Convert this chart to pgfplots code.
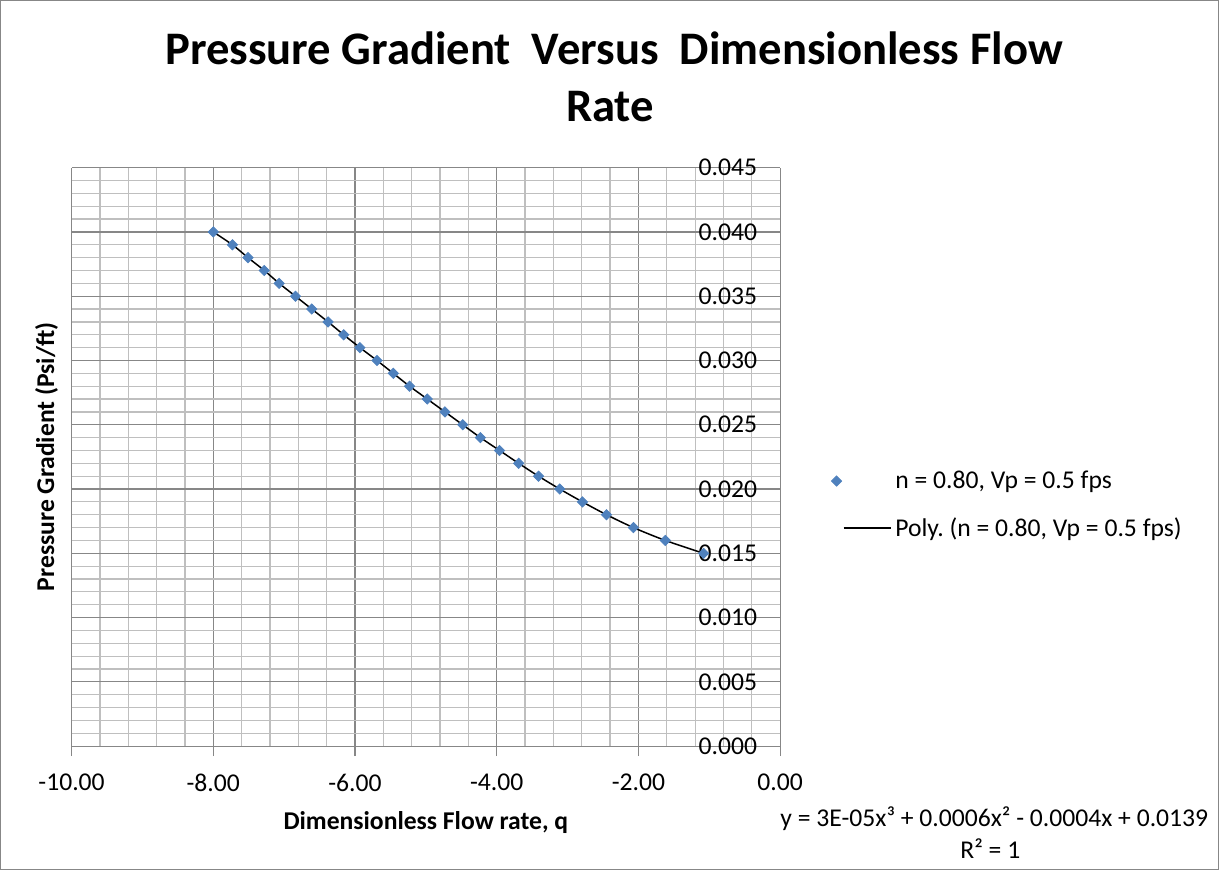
\documentclass[border=0pt]{standalone}
\usepackage{fontspec}
\setmainfont{Carlito}
\usepackage{pgfplots}
\usepackage{pgfplotstable}
\pgfplotsset{compat=1.18}
\definecolor{mblue}{HTML}{4F81BD}
\definecolor{gmaj}{HTML}{878787}
\definecolor{gmin}{HTML}{BFBFBF}
\pgfplotstableread{
x y
-8.00 0.040
-7.73 0.039
-7.51 0.038
-7.28 0.037
-7.07 0.036
-6.84 0.035
-6.61 0.034
-6.38 0.033
-6.16 0.032
-5.93 0.031
-5.69 0.030
-5.46 0.029
-5.23 0.028
-4.98 0.027
-4.73 0.026
-4.48 0.025
-4.23 0.024
-3.96 0.023
-3.69 0.022
-3.41 0.021
-3.11 0.020
-2.79 0.019
-2.45 0.018
-2.07 0.017
-1.62 0.016
-1.08 0.015
}\datatable
\newcommand{\fs}{\fontsize{12.8}{15.4}\selectfont}
\pgfplotsset{
  legmark/.style={legend image code/.code={\path[draw=none,fill=none] (-3pt,0pt) -- (27pt,0pt); \draw[##1] plot coordinates {(0pt,0pt)};}},
  legline/.style={legend image code/.code={\path[draw=none,fill=none] (-3pt,0pt) -- (27pt,0pt); \draw[##1] (3.5pt,0pt) -- (27pt,0pt);}},
}
\frenchspacing
\begin{document}
\frenchspacing
\begin{tikzpicture}
\draw[gmaj, line width=0.5pt] (0.5pt,-0.5pt) rectangle (609pt,-434.5pt);
\begin{axis}[
  at={(36pt,-373pt)}, anchor=south west,
  scale only axis, width=354pt, height=289pt,
  xmin=-10, xmax=0, ymin=0, ymax=0.045,
  scaled y ticks=false, scaled x ticks=false,
  xtick={-10,-8,-6,-4,-2,0},
  xticklabels={-10.00,-8.00,-6.00,-4.00,-2.00,0.00},
  ytick={0,0.005,0.01,0.015,0.02,0.025,0.03,0.035,0.04,0.045},
  yticklabels={0.000,0.005,0.010,0.015,0.020,0.025,0.030,0.035,0.040,0.045},
  minor xtick={-9.6,-9.2,-8.8,-8.4,-7.6,-7.2,-6.8,-6.4,-5.6,-5.2,-4.8,-4.4,-3.6,-3.2,-2.8,-2.4,-1.6,-1.2,-0.8,-0.4},
  minor ytick={0.001,0.002,0.003,0.004,0.006,0.007,0.008,0.009,0.011,0.012,0.013,0.014,0.016,0.017,0.018,0.019,0.021,0.022,0.023,0.024,0.026,0.027,0.028,0.029,0.031,0.032,0.033,0.034,0.036,0.037,0.038,0.039,0.041,0.042,0.043,0.044},
  grid=both,
  major grid style={gmaj, line width=0.6pt},
  minor grid style={gmin, line width=0.6pt},
  axis line style={draw=none},
  yticklabel pos=right,
  yticklabel style={anchor=east, xshift=-8pt},
  xticklabel style={yshift=-5.5pt},
  ytick style={draw=none},
  xtick pos=bottom,
  xtick align=outside,
  major tick length=5pt,
  minor tick length=0pt,
  xtick style={gmaj, line width=0.6pt},
  tick label style={font=\fs},
  legend style={draw=none, fill=none, inner sep=0pt, at={(1.0706,0.417)}, anchor=west, font=\fs, row sep=9pt},
  legend cell align=left,
  clip=false,
]
\addplot[only marks, mark=square*, mark size=1.8pt, mark options={rotate=45, fill=mblue, draw=mblue}, legmark]
  table[x=x,y=y] {\datatable};
\addlegendentry{n = 0.80, Vp = 0.5 fps}
\addplot[black, line width=0.75pt, smooth, no marks, legline]
  table[x=x,y=y] {\datatable};
\addlegendentry{Poly. (n = 0.80, Vp = 0.5 fps)}
\end{axis}
\node[font=\fontsize{23.3}{28}\selectfont\bfseries, anchor=base] at (307pt,-32.5pt) {Pressure Gradient\ \ Versus\ \ Dimensionless Flow};
\node[font=\fontsize{23.3}{28}\selectfont\bfseries, anchor=base] at (305pt,-61pt) {Rate};
\node[font=\fs\bfseries, rotate=90] at (23.5pt,-228.5pt) {Pressure Gradient (Psi/ft)};
\node[font=\fs\bfseries] at (213pt,-411pt) {Dimensionless Flow rate, q};
\node[font=\fs] at (497pt,-409pt) {y = 3E-05x³ + 0.0006x² - 0.0004x + 0.0139};
\node[font=\fs] at (495pt,-424pt) {R² = 1};
\end{tikzpicture}
\end{document}
